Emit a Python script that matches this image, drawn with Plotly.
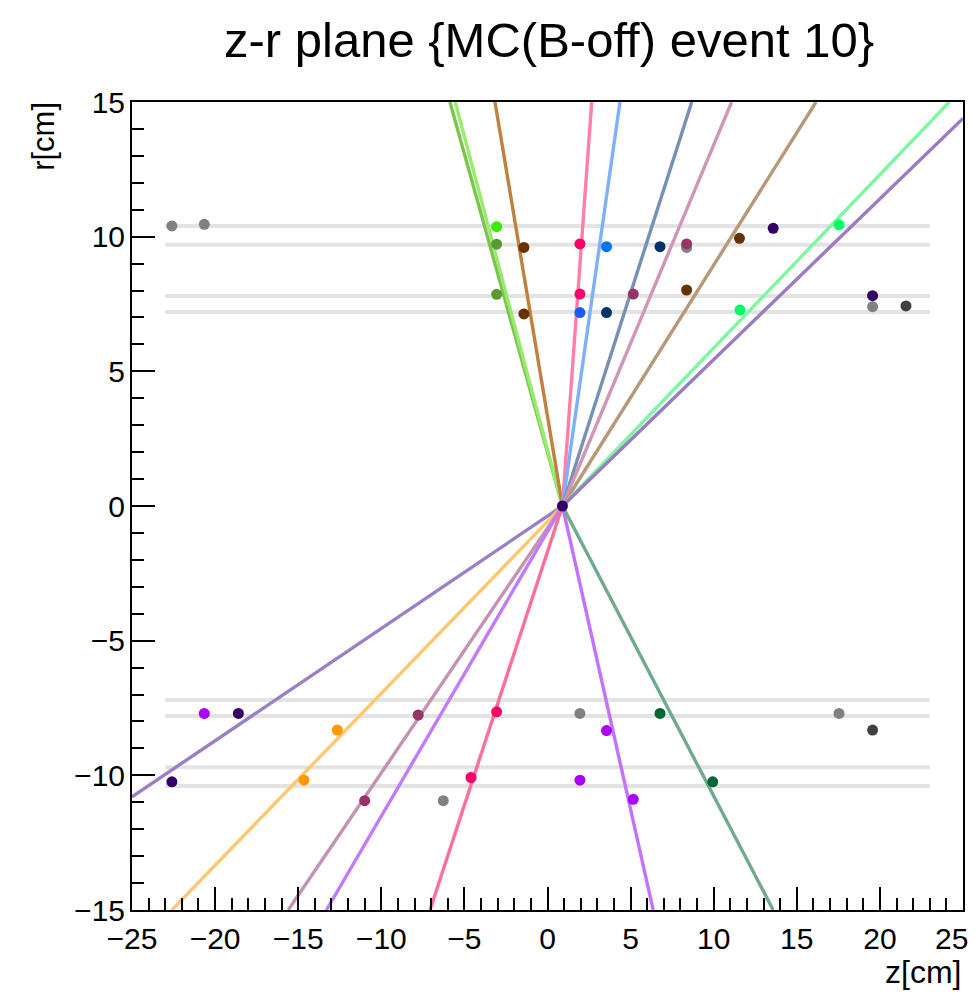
import plotly.graph_objects as go

# ---------------- data ----------------
vertex_z = 0.9
vertex_r = 0.0

# detector layers (|r| values) and their z extent
layer_r = [10.4, 9.7, 7.8, 7.2, -7.2, -7.8, -9.7, -10.4]
layer_z_min = -23.0
layer_z_max = 23.0

# tracks: end point of each straight line leaving the vertex
track_end_z = [-5.87, -5.55, -3.16, 2.66, 4.36, 8.68, 11.08, 16.16, 24.18, 25.0,
               -25.0, -22.6, -15.6, -13.3, -7.07, 6.36, 13.58]
track_end_r = [15.0, 15.0, 15.0, 15.0, 15.0, 15.0, 15.0, 15.0, 15.0, 14.39,
               -10.8, -15.0, -15.0, -15.0, -15.0, -15.0, -15.0]
track_colors = ["#7cc450", "#98ec6c", "#c08040", "#ff7fa6", "#7fb0ff", "#7890b4",
                "#d096b8", "#b89878", "#7ff7a0", "#9a7cc4",
                "#9a80c4", "#ffc870", "#c492b2", "#c27aff", "#ff6f98", "#c272ff", "#70aa8c"]

# hits
hit_z = [-22.6, -20.65, -3.06, -3.06, -3.06, -1.42, -1.42, 1.95, 1.95, 1.95,
         3.55, 3.55, 6.77, 5.16, 8.37, 8.37, 11.55, 8.37, 13.58, 17.54, 11.58,
         19.56, 19.56, 21.57,
         -20.65, -18.6, -12.65, -14.65, -22.6, -7.78, -11.0, -6.27, -3.06, -4.6,
         1.95, 3.55, 1.95, 5.16, 6.77, 9.94, 17.54, 19.56,
         0.9]
hit_r = [10.4, 10.46, 10.37, 9.72, 7.86, 9.6, 7.13, 9.73, 7.87, 7.18,
         9.63, 7.18, 9.63, 7.87, 9.6, 9.73, 9.94, 8.02, 10.31, 10.44, 7.28,
         7.4, 7.81, 7.43,
         -7.7, -7.7, -8.32, -10.18, -10.24, -7.76, -10.94, -10.94, -7.64, -10.08,
         -7.7, -8.34, -10.18, -10.89, -7.7, -10.24, -7.7, -8.32,
         0.0]
hit_colors = ["#808080", "#808080", "#33ee00", "#5a9a30", "#5a9a30", "#6a3000", "#6a3000",
              "#ff0066", "#ff0066", "#1a5cff",
              "#0070ff", "#003366", "#003366", "#993366", "#808080", "#993366",
              "#663300", "#663300", "#330066", "#00ff66", "#00ff66",
              "#808080", "#330066", "#404040",
              "#aa00ff", "#330066", "#ff9900", "#ff9900", "#330066", "#993366", "#993366",
              "#808080", "#ff0066", "#ff0066",
              "#808080", "#aa00ff", "#aa00ff", "#aa00ff", "#006633", "#006633",
              "#808080", "#404040",
              "#330066"]

x_range = [-25, 25]
y_range = [-15, 15]
x_tick_vals = [-25, -20, -15, -10, -5, 0, 5, 10, 15, 20, 25]
x_tick_text = ["\u221225", "\u221220", "\u221215", "\u221210", "\u22125", "0", "5", "10",
               "15", "20", "25\u2007\u2009"]

title_text = "z-r plane {MC(B-off) event 10}"
x_title = "z[cm]"
y_title = "r[cm]"

# ---------------- figure ----------------
FONT = "Liberation Sans, Arial, Helvetica, sans-serif"
fig = go.Figure()

for r in layer_r:
    fig.add_trace(go.Scatter(x=[layer_z_min, layer_z_max], y=[r, r], mode="lines",
                             line=dict(color="#e3e3e3", width=4),
                             hoverinfo="skip", showlegend=False))

for ez, er, c in zip(track_end_z, track_end_r, track_colors):
    fig.add_trace(go.Scatter(x=[vertex_z, ez], y=[vertex_r, er], mode="lines",
                             line=dict(color=c, width=3.4),
                             showlegend=False))

fig.add_trace(go.Scatter(x=hit_z, y=hit_r, mode="markers",
                         marker=dict(color=hit_colors, size=11, symbol="circle",
                                     line=dict(width=0)),
                         showlegend=False))

axis_common = dict(
    showgrid=False, zeroline=False, automargin=False,
    showline=True, linecolor="black", linewidth=2, mirror=True,
    ticks="inside", ticklen=23, tickwidth=1.5, tickcolor="black",
    tickfont=dict(family=FONT, size=30, color="black"),
    ticklabeloverflow="allow",
    minor=dict(ticks="inside", ticklen=12, tickwidth=1.5, tickcolor="black", dtick=1),
)

fig.update_xaxes(range=x_range, tickmode="array", tickvals=x_tick_vals, ticktext=x_tick_text,
                 ticklabelstandoff=1, **axis_common)
fig.update_xaxes(minor=dict(tickmode="linear", tick0=-25, dtick=1))
fig.update_yaxes(range=y_range, tick0=-15, dtick=5, ticklabelstandoff=-1, **axis_common)

fig.update_layout(
    width=971, height=986,
    margin=dict(l=124, r=16, t=94, b=84, autoexpand=False),
    paper_bgcolor="white", plot_bgcolor="white",
    font=dict(family=FONT, color="black"),
    annotations=[
        dict(text=title_text, xref="paper", yref="paper", x=0.502, y=1.077,
             xanchor="center", yanchor="middle", showarrow=False,
             font=dict(family=FONT, size=49, color="black")),
        dict(text=y_title, xref="paper", yref="paper", x=-0.106, y=0.958,
             xanchor="center", yanchor="middle", textangle=-90, showarrow=False,
             font=dict(family=FONT, size=31, color="black")),
        dict(text=x_title, xref="paper", yref="paper", x=1.0, y=-0.077,
             xanchor="right", yanchor="middle", showarrow=False,
             font=dict(family=FONT, size=32, color="black")),
    ],
)

fig.write_html("out.html")
